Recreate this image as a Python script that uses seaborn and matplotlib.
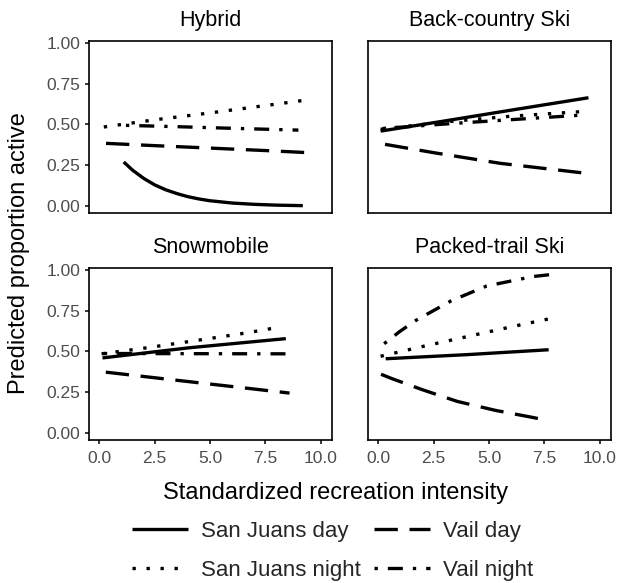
import matplotlib
matplotlib.use("Agg")
import numpy as np
import pandas as pd
import seaborn as sns
import matplotlib.pyplot as plt
from matplotlib.lines import Line2D

# ---------------- data ----------------
panels = ["Hybrid", "Back-country Ski", "Snowmobile", "Packed-trail Ski"]
series = ["San Juans day", "Vail day", "San Juans night", "Vail night"]
y_ticks = [0.00, 0.25, 0.50, 0.75, 1.00]
x_ticks = [0.0, 2.5, 5.0, 7.5, 10.0]

# Hybrid
hyb_sjd_x = [1.1, 1.5, 2.0, 2.5, 3.0, 3.5, 4.0, 4.5, 5.0, 6.0, 7.0, 8.0, 9.2]
hyb_sjd_y = [0.27, 0.22, 0.17, 0.13, 0.10, 0.077, 0.058, 0.044, 0.033, 0.019, 0.011, 0.006, 0.003]
hyb_vd_x = [0.3, 2.5, 5.0, 7.5, 9.6]
hyb_vd_y = [0.384, 0.370, 0.355, 0.340, 0.326]
hyb_sjn_x = [0.2, 2.5, 5.0, 7.5, 9.3]
hyb_sjn_y = [0.484, 0.528, 0.570, 0.615, 0.648]
hyb_vn_x = [1.2, 3.5, 6.0, 9.0]
hyb_vn_y = [0.494, 0.486, 0.476, 0.465]

# Back-country Ski
bc_sjd_x = [0.1, 3.0, 6.0, 9.5]
bc_sjd_y = [0.459, 0.521, 0.587, 0.663]
bc_vd_x = [0.3, 2.5, 5.5, 9.45]
bc_vd_y = [0.378, 0.327, 0.262, 0.200]
bc_sjn_x = [0.1, 3.0, 6.0, 9.4]
bc_sjn_y = [0.470, 0.515, 0.550, 0.580]
bc_vn_x = [0.2, 3.3, 6.7, 9.0]
bc_vn_y = [0.475, 0.505, 0.535, 0.555]

# Snowmobile
sm_sjd_x = [0.14, 4.06, 8.43]
sm_sjd_y = [0.460, 0.522, 0.578]
sm_vd_x = [0.29, 3.0, 6.0, 8.6]
sm_vd_y = [0.373, 0.331, 0.285, 0.245]
sm_sjn_x = [0.1, 2.2, 4.7, 6.7, 8.0]
sm_sjn_y = [0.485, 0.523, 0.573, 0.614, 0.645]
sm_vn_x = [0.2, 4.0, 8.66]
sm_vn_y = [0.487, 0.486, 0.485]

# Packed-trail Ski
pt_sjd_x = [0.33, 4.0, 7.7]
pt_sjd_y = [0.455, 0.480, 0.510]
pt_vd_x = [0.12, 0.62, 2.0, 3.57, 5.3, 6.9, 7.5]
pt_vd_y = [0.360, 0.333, 0.265, 0.194, 0.139, 0.098, 0.082]
pt_sjn_x = [0.1, 2.0, 4.0, 6.0, 7.75]
pt_sjn_y = [0.470, 0.530, 0.590, 0.650, 0.700]
pt_vn_x = [0.26, 0.95, 1.7, 3.3, 4.9, 7.0, 7.95]
pt_vn_y = [0.547, 0.620, 0.690, 0.810, 0.900, 0.958, 0.972]

curves = [
    ("Hybrid", "San Juans day", hyb_sjd_x, hyb_sjd_y),
    ("Hybrid", "Vail day", hyb_vd_x, hyb_vd_y),
    ("Hybrid", "San Juans night", hyb_sjn_x, hyb_sjn_y),
    ("Hybrid", "Vail night", hyb_vn_x, hyb_vn_y),
    ("Back-country Ski", "San Juans day", bc_sjd_x, bc_sjd_y),
    ("Back-country Ski", "Vail day", bc_vd_x, bc_vd_y),
    ("Back-country Ski", "San Juans night", bc_sjn_x, bc_sjn_y),
    ("Back-country Ski", "Vail night", bc_vn_x, bc_vn_y),
    ("Snowmobile", "San Juans day", sm_sjd_x, sm_sjd_y),
    ("Snowmobile", "Vail day", sm_vd_x, sm_vd_y),
    ("Snowmobile", "San Juans night", sm_sjn_x, sm_sjn_y),
    ("Snowmobile", "Vail night", sm_vn_x, sm_vn_y),
    ("Packed-trail Ski", "San Juans day", pt_sjd_x, pt_sjd_y),
    ("Packed-trail Ski", "Vail day", pt_vd_x, pt_vd_y),
    ("Packed-trail Ski", "San Juans night", pt_sjn_x, pt_sjn_y),
    ("Packed-trail Ski", "Vail night", pt_vn_x, pt_vn_y),
]

rows = []
for panel, s, xs, ys in curves:
    for xv, yv in zip(xs, ys):
        rows.append({"panel": panel, "series": s, "intensity": xv, "proportion": yv})
df = pd.DataFrame(rows)

# ---------------- styling ----------------
sns.set_theme(style="white")
plt.rcParams["font.family"] = ["Liberation Sans", "DejaVu Sans"]
plt.rcParams["lines.solid_capstyle"] = "butt"
plt.rcParams["lines.dash_capstyle"] = "butt"
plt.rcParams["lines.solid_joinstyle"] = "round"

LW = 2.4
dashes = {
    "San Juans day": "",
    "Vail day": (7, 3.5),
    "San Juans night": (1, 3.2),
    "Vail night": (1, 3, 4.5, 3),
}

fig, axes = plt.subplots(2, 2, figsize=(6.19, 5.83), dpi=100, sharex=True, sharey=True)
fig.subplots_adjust(left=89 / 619, right=611 / 619, top=1 - 41 / 583,
                    bottom=1 - 440 / 583, wspace=36 / 243, hspace=55 / 172)

for ax, panel in zip(axes.flat, panels):
    sub = df[df["panel"] == panel]
    sns.lineplot(data=sub, x="intensity", y="proportion", style="series",
                 style_order=series, dashes=dashes, color="black",
                 linewidth=LW, legend=False, ax=ax, estimator=None, sort=True)
    ax.set_title(panel, fontsize=15.5, pad=11, color="black")
    ax.set_xlabel("")
    ax.set_ylabel("")
    ax.set_xlim(-0.47, 10.52)
    ax.set_ylim(-0.042, 1.01)
    ax.set_xticks(x_ticks)
    ax.set_yticks(y_ticks)
    ax.set_xticklabels([f"{v:.1f}" for v in x_ticks])
    ax.set_yticklabels([f"{v:.2f}" for v in y_ticks])
    for sp in ax.spines.values():
        sp.set_visible(True)
        sp.set_color("black")
        sp.set_linewidth(1.2)
    ax.tick_params(axis="both", which="both", labelsize=12.5, labelcolor="#4d4d4d",
                   color="black", length=3.2, width=1.1)
    ax.tick_params(axis="x", pad=5)
    ax.tick_params(axis="y", pad=3)
    ax.grid(False)

# outer axes only
for ax in axes[0, :]:
    ax.tick_params(axis="x", bottom=False, labelbottom=False)
for ax in axes[:, 1]:
    ax.tick_params(axis="y", left=False, labelleft=False)
for ax in axes[1, :]:
    ax.tick_params(axis="x", bottom=True, labelbottom=True)
for ax in axes[:, 0]:
    ax.tick_params(axis="y", left=True, labelleft=True)

fig.text(336 / 619, 1 - 493 / 583, "Standardized recreation intensity",
         ha="center", va="center", fontsize=17, color="black")
fig.text(19 / 619, 1 - 253 / 583, "Predicted proportion active",
         ha="center", va="center", rotation=90, fontsize=17, color="black")

order = ["San Juans day", "San Juans night", "Vail day", "Vail night"]
handles = []
for s in order:
    d = dashes[s]
    if d == "":
        h = Line2D([], [], color="black", lw=LW, linestyle="-")
    else:
        h = Line2D([], [], color="black", lw=LW, dashes=d)
    handles.append(h)
fig.legend(handles, order, loc="center", bbox_to_anchor=(333 / 619, 1 - 551 / 583),
           ncol=2, frameon=False, fontsize=16, handlelength=2.5,
           handletextpad=0.6, columnspacing=0.6, labelspacing=0.8)

fig.savefig("out.png", dpi=100)
